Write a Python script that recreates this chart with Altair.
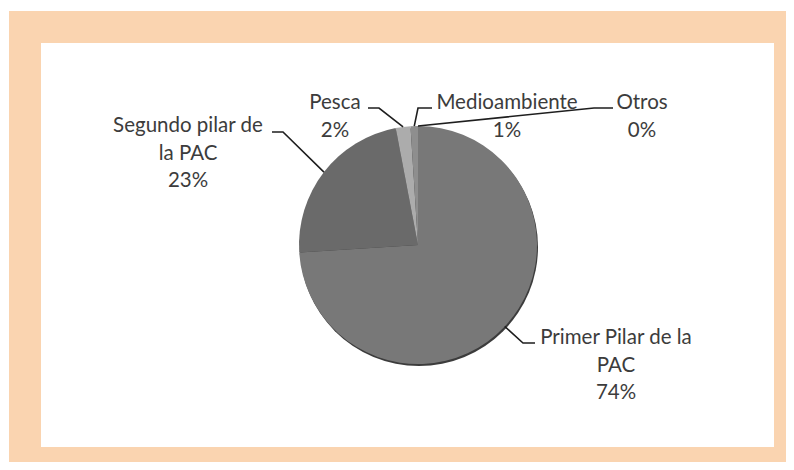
import math
import altair as alt
import pandas as pd

# ---------------- data ----------------
categories = ["Primer Pilar de la PAC", "Segundo pilar de la PAC", "Pesca", "Medioambiente", "Otros"]
label_names = ["Primer Pilar de la\nPAC", "Segundo pilar de\nla PAC", "Pesca", "Medioambiente", "Otros"]
shares = [74, 23, 2, 1, 0]
slice_colors = ["#787878", "#6a6a6a", "#acacac", "#8e8e8e", "#808080"]

# ---------------- layout (image pixel coordinates) ----------------
W, H = 778, 454
PAD_L, PAD_T = 1, 3
X0, Y0 = 8 + PAD_L, 8 + PAD_T          # view origin on the page
VW, VH = W - PAD_L, H - PAD_T
CX, CY, R = 418, 245, 119              # pie centre and radius
PEACH = "#FAD4B0"
INNER = (41, 43, 774, 447)             # white panel
FONT = "Lato"
FSIZE = 20.5
# label anchor: (centre x, baseline of first line)
label_anchor = [(616, 344), (188, 132), (335, 109), (507, 109), (642, 109)]
# leader polyline start + elbow, the end is on the pie edge
leader_start = [[(535, 343), (523, 343)],
                [(272, 132), (283, 132)],
                [(368, 108), (379, 108)],
                [(432, 108), (418, 108)],
                [(613, 108), (594, 108)]]

# ---------------- tables ----------------
total = sum(shares)
pie_df = pd.DataFrame({"cat": categories, "share": shares, "idx": list(range(len(categories)))})

lab_rows, line_rows = [], []
cum = 0.0
for i, (c, n, s) in enumerate(zip(categories, label_names, shares)):
    mid = (cum + s / 2) / total * 2 * math.pi
    cum += s
    ex, ey = CX + R * math.sin(mid), CY - R * math.cos(mid)
    lab_rows.append({"cat": c, "txt": f"{n}\n{s}%", "px": label_anchor[i][0], "py": label_anchor[i][1]})
    pts = leader_start[i] + [(ex, ey)]
    for k, (px, py) in enumerate(pts):
        line_rows.append({"cat": c, "k": k, "px": px, "py": py})

lab_df = pd.DataFrame(lab_rows)
line_df = pd.DataFrame(line_rows)

xs = alt.Scale(domain=[X0, X0 + VW], nice=False, zero=False)
ys = alt.Scale(domain=[Y0, Y0 + VH], nice=False, zero=False, reverse=True)

one = alt.Data(values=[{"a": 1}])

panel = alt.Chart(one).mark_rect(color="white").encode(
    x=alt.value(INNER[0] - X0), x2=alt.value(INNER[2] - X0),
    y=alt.value(INNER[1] - Y0), y2=alt.value(INNER[3] - Y0),
)

shadow = alt.Chart(one).mark_arc(radius=R, theta=0, theta2=2 * math.pi, color="#3c3c3c").encode(
    x=alt.value(CX - X0 + 1), y=alt.value(CY - Y0 + 2)
)

pie = alt.Chart(pie_df).mark_arc(radius=R).encode(
    theta=alt.Theta("share:Q", stack=True),
    order=alt.Order("idx:Q"),
    color=alt.Color("cat:N", scale=alt.Scale(domain=categories, range=slice_colors), legend=None),
    x=alt.value(CX - X0), y=alt.value(CY - Y0),
)

leaders = alt.Chart(line_df).mark_line(color="#1e1e1e", strokeWidth=1.6).encode(
    x=alt.X("px:Q", scale=xs, axis=None),
    y=alt.Y("py:Q", scale=ys, axis=None),
    detail="cat:N",
    order="k:Q",
)

labels = alt.Chart(lab_df).mark_text(
    align="center", baseline="alphabetic", lineBreak="\n", lineHeight=27.5,
    font=FONT, fontSize=FSIZE, color="#3c3c3c",
).encode(
    x=alt.X("px:Q", scale=xs, axis=None),
    y=alt.Y("py:Q", scale=ys, axis=None),
    text="txt:N",
)

chart = alt.layer(panel, shadow, pie, leaders, labels).properties(
    width=W, height=H,
    autosize=alt.AutoSizeParams(type="fit", contains="padding"),
    padding={"left": PAD_L, "top": PAD_T, "right": 0, "bottom": 0},
    background="white",
).configure_view(fill=PEACH, stroke=None)

chart.save("out.html", embed_options={"renderer": "svg", "actions": False})
